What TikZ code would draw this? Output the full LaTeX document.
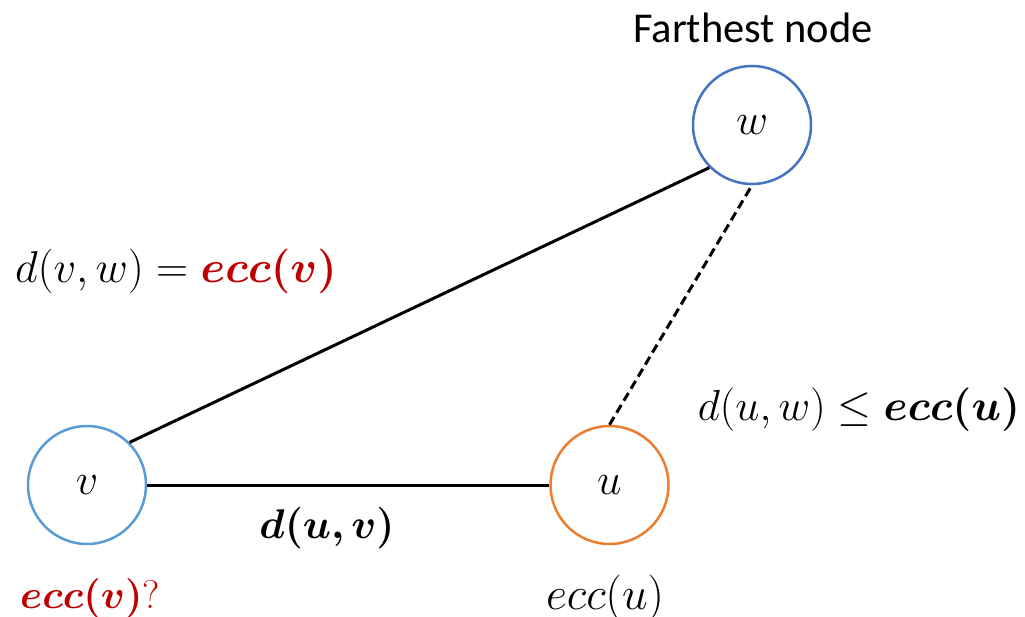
\RequirePackage{fix-cm}
\documentclass[tikz,border=0pt]{standalone}
\usepackage{amsmath,amssymb}
\usepackage{bm}
\usepackage{fontspec}
\newfontfamily\calibri{Carlito}
\definecolor{wblue}{HTML}{4472C4}
\definecolor{vblue}{HTML}{5B9BD5}
\definecolor{uorange}{HTML}{ED7D31}
\definecolor{redtxt}{HTML}{C00000}
\begin{document}
\begin{tikzpicture}[x=1pt,y=-1pt,
  vertex/.style={circle,draw,line width=2.5pt,minimum size=118pt,inner sep=0pt,fill=white},
  edge/.style={line width=3pt,black},
  mlabel/.style={inner sep=0pt,font=\fontsize{#1}{#1}\selectfont},
  mlabel/.default=44
]
\useasboundingbox (0,0) rectangle (1025,617);
\node[vertex,draw=wblue] (w) at (752,125) {};
\node[vertex,draw=vblue] (v) at (87,485) {};
\node[vertex,draw=uorange] (u) at (609.5,485) {};
\draw[edge] (v.45) -- (w.225);
\draw[edge] (v.east) -- (u.west);
\draw[edge,dash pattern=on 9pt off 5pt] (u.north) -- (w.south);
\node[mlabel] (wl) at (w.center) {$w$};
\node[mlabel] (vl) at (v.center) {$v$};
\node[mlabel] (ul) at (u.center) {$u$};
\node[inner sep=0pt,font=\calibri\fontsize{42.5}{48}\selectfont] (far) at (753,28) {Farthest node};
\node[mlabel=44.5] (dvw) at (176,271) {$d(v,w)=\color{redtxt}\bm{ecc(v)}$};
\node[mlabel=43.5] (duw) at (859,410) {$d(u,w)\leq\bm{ecc(u)}$};
\node[mlabel=41.5] (duv) at (327,528) {$\bm{d(u,v)}$};
\node[mlabel=40] (eccv) at (90,598) {$\color{redtxt}\bm{ecc(v)}\text{?}$};
\node[mlabel=46] (eccu) at (605,598) {$ecc(u)$};
\end{tikzpicture}
\end{document}
